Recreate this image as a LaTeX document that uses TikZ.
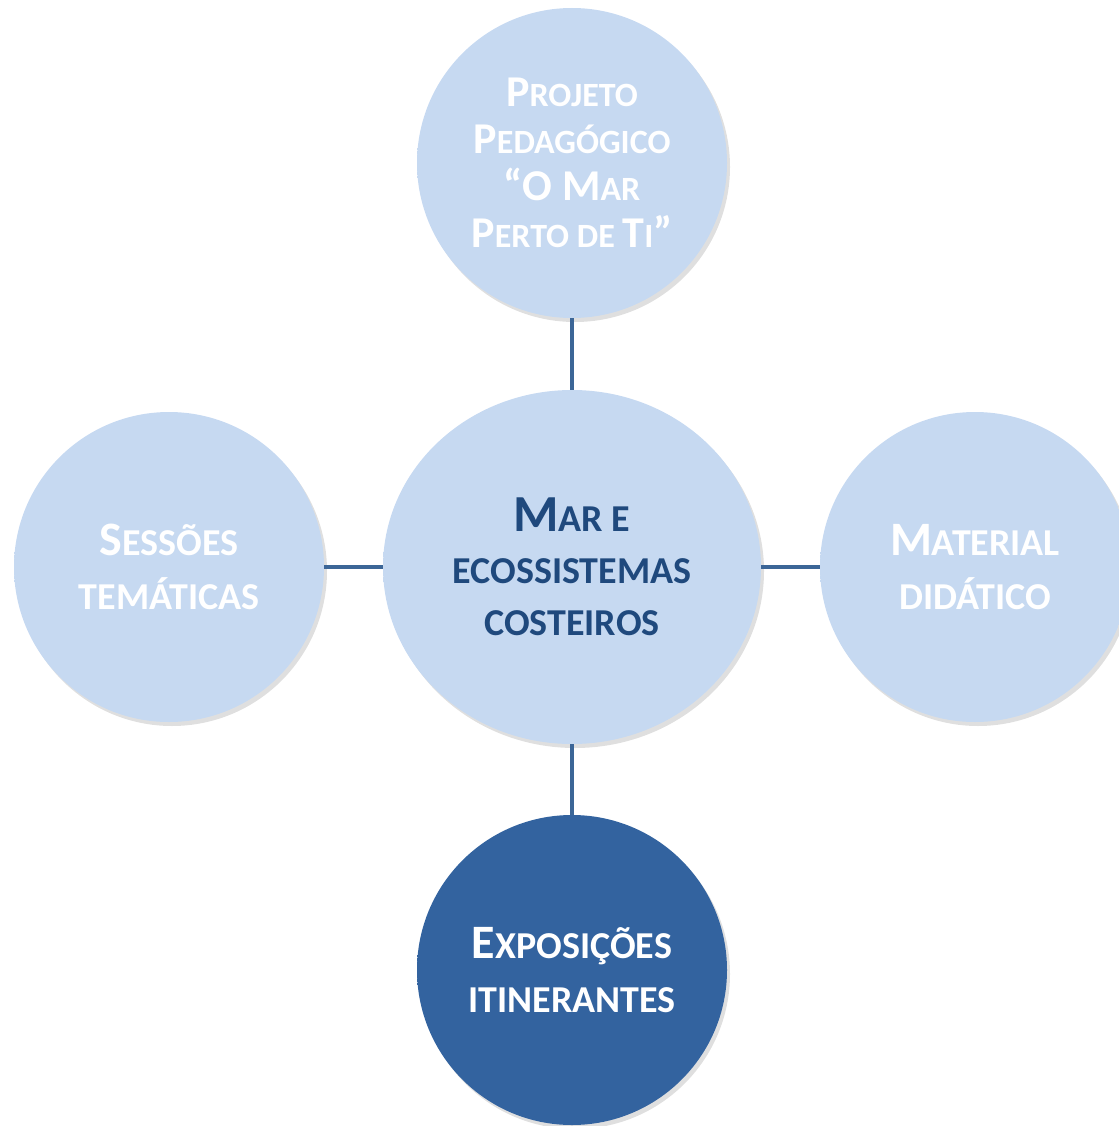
\documentclass[tikz,border=0pt]{standalone}
\usepackage{fontspec}
\setmainfont{Carlito}
\usetikzlibrary{shapes.geometric,shadows}
\definecolor{lb}{HTML}{C6D9F1}
\definecolor{db}{HTML}{33639F}
\definecolor{txtb}{HTML}{1F497D}
\definecolor{lnc}{HTML}{3C6697}
\pgfdeclareradialshading{lightball}{\pgfpoint{0bp}{0bp}}{color(0bp)=(lb); color(45bp)=(lb); color(48.5bp)=(lb!85!black); color(50bp)=(lb!65!black)}
\pgfdeclareradialshading{darkball}{\pgfpoint{0bp}{0bp}}{color(0bp)=(db); color(45bp)=(db); color(48.5bp)=(db!85!black); color(50bp)=(db!65!black)}
\newcommand\Kt[1]{{\fontsize{44}{47}\selectfont #1}}
\newcommand\Ko[1]{{\fontsize{48}{54}\selectfont #1}}
\newcommand\Kc[1]{{\fontsize{52}{52}\selectfont #1}}
\tikzset{
  ball/.style={circle, inner sep=0pt, minimum size=310pt, shading=lightball,
    drop shadow={opacity=0.25, shadow xshift=3pt, shadow yshift=-4pt},
    align=center, text=white},
  outertxt/.style={font=\fontsize{38}{54}\selectfont\bfseries},
  toptxt/.style={font=\fontsize{34}{47}\selectfont\bfseries},
  conn/.style={draw=lnc, line width=4pt}
}
\begin{document}
\begin{tikzpicture}[x=1pt,y=-1pt]
\useasboundingbox (0,0) rectangle (1118,1126);
\node[ball, toptxt] (top) at (572,163) {\Kt{P}ROJETO\\\Kt{P}EDAGÓGICO\\\Kt{“O M}AR\\\Kt{P}ERTO DE \Kt{T}I\Kt{”}};
\node[ellipse, inner sep=0pt, minimum width=378pt, minimum height=354pt, shading=lightball,
  drop shadow={opacity=0.25, shadow xshift=3pt, shadow yshift=-4pt},
  align=center, text=txtb, font=\fontsize{38}{52}\selectfont\bfseries] (mid) at (572,567)
  {\Kc{M}AR E\\ECOSSISTEMAS\\COSTEIROS};
\node[ball, outertxt] (left) at (169,567) {\Ko{S}ESSÕES\\TEMÁTICAS};
\node[ball, outertxt] (right) at (975,567) {\Ko{M}ATERIAL\\DIDÁTICO};
\node[ball, outertxt, shading=darkball] (bot) at (572,970) {\Ko{E}XPOSIÇÕES\\ITINERANTES};
\draw[conn] (top) -- (mid);
\draw[conn] (mid) -- (bot);
\draw[conn] (left) -- (mid);
\draw[conn] (mid) -- (right);
\end{tikzpicture}
\end{document}
